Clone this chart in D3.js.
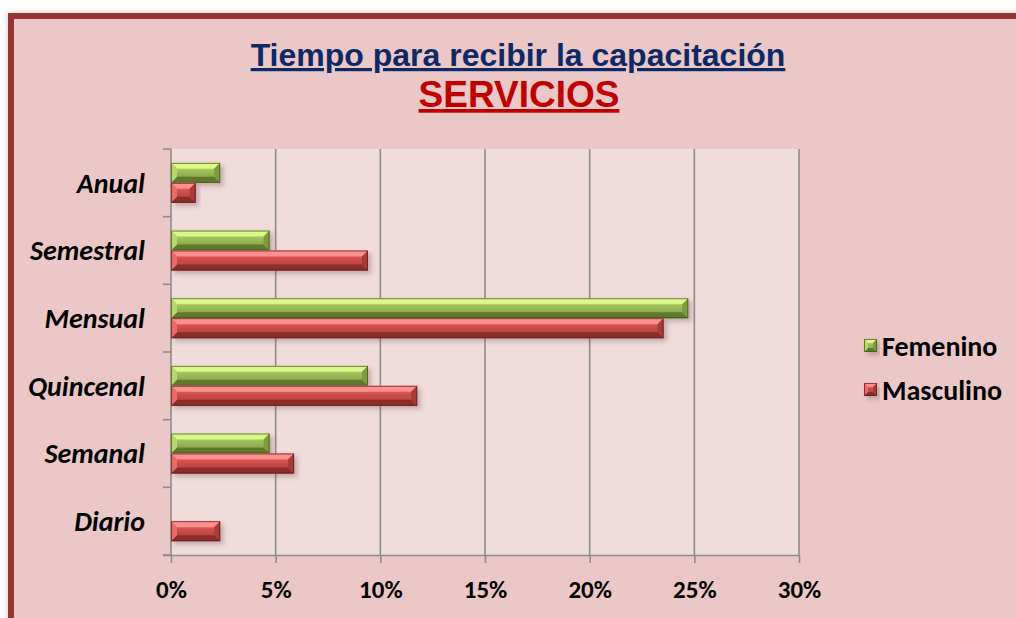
<!DOCTYPE html>
<html>
<head>
<meta charset="utf-8">
<script src="https://cdn.jsdelivr.net/npm/d3@7"></script>
<style>
  html, body { margin: 0; padding: 0; background: #ffffff; }
  svg { display: block; }
</style>
</head>
<body>
<svg id="chart" width="1016" height="618"></svg>
<script>
// Frequency categories, listed from top to bottom
const categories = ["Anual", "Semestral", "Mensual", "Quincenal", "Semanal", "Diario"];
// Series names (legend order)
const seriesNames = ["Femenino", "Masculino"];
// Percentages per category
const femenino  = [2.35, 4.71, 24.71, 9.41, 4.71, 0];
const masculino = [1.18, 9.41, 23.53, 11.76, 5.88, 2.35];
// X axis ticks
const xTicks = [0, 5, 10, 15, 20, 25, 30];

const titleText = "Tiempo para recibir la capacitación";
const subtitleText = "SERVICIOS";

const svg = d3.select("#chart");
const W = 1016, H = 618;
const labelFont = "Carlito, Lato, 'Open Sans', sans-serif";

const palette = {
  Femenino:  { light: "#dcf88a", top: "#b9d86a", mid: "#9bbb59", low: "#7d9a40", dark: "#5f7a2b", edge: "#3f5217" },
  Masculino: { light: "#ff8e8e", top: "#ec6a68", mid: "#cd4d4b", low: "#a83b39", dark: "#8a2e2c", edge: "#5c1a19" }
};

const defs = svg.append("defs");
const shadow = defs.append("filter").attr("id", "barShadow")
  .attr("x", "-10%").attr("y", "-30%").attr("width", "130%").attr("height", "180%");
shadow.append("feDropShadow").attr("dx", 3).attr("dy", 3).attr("stdDeviation", 2.5)
  .attr("flood-color", "#6b4a4a").attr("flood-opacity", 0.35);

const frameShadow = defs.append("filter").attr("id", "frameShadow")
  .attr("x", "-5%").attr("y", "-5%").attr("width", "110%").attr("height", "110%");
frameShadow.append("feDropShadow").attr("dx", 0).attr("dy", 0).attr("stdDeviation", 3)
  .attr("flood-color", "#000").attr("flood-opacity", 0.25);

Object.entries(palette).forEach(([name, c]) => {
  const g = defs.append("linearGradient").attr("id", "grad-" + name)
    .attr("x1", 0).attr("y1", 0).attr("x2", 0).attr("y2", 1);
  g.append("stop").attr("offset", "0%").attr("stop-color", c.top);
  g.append("stop").attr("offset", "45%").attr("stop-color", c.mid);
  g.append("stop").attr("offset", "100%").attr("stop-color", c.low);
});

// Chart frame with dark red border
svg.append("rect")
  .attr("x", 11).attr("y", 16).attr("width", W + 20).attr("height", H + 20)
  .attr("fill", "#ecc7c7").attr("stroke", "#943634").attr("stroke-width", 6)
  .attr("filter", "url(#frameShadow)");

// Titles
svg.append("text")
  .attr("x", 518).attr("y", 66)
  .attr("text-anchor", "middle")
  .attr("font-family", "'Liberation Sans', Arial, sans-serif")
  .attr("font-weight", "bold").attr("font-size", 32)
  .attr("fill", "#0d2a66")
  .attr("text-decoration", "underline")
  .text(titleText);

svg.append("text")
  .attr("x", 519).attr("y", 107)
  .attr("text-anchor", "middle")
  .attr("font-family", "'Liberation Sans', Arial, sans-serif")
  .attr("font-weight", "bold").attr("font-size", 37)
  .attr("fill", "#c00000")
  .attr("text-decoration", "underline")
  .text(subtitleText);

// Plot geometry
const plot = { left: 171, right: 799, top: 149, bottom: 555 };

const x = d3.scaleLinear().domain([0, 30]).range([plot.left, plot.right]);
const y = d3.scaleBand().domain(categories).range([plot.top, plot.bottom])
  .paddingInner(0.41).paddingOuter(0.205);
const ySub = d3.scaleBand().domain(seriesNames).range([0, y.bandwidth()]);

// Plot background
svg.append("rect")
  .attr("x", plot.left).attr("y", plot.top)
  .attr("width", plot.right - plot.left).attr("height", plot.bottom - plot.top)
  .attr("fill", "#f1dcdc");

// Vertical gridlines
svg.append("g").selectAll("line").data(xTicks.slice(1)).join("line")
  .attr("x1", d => x(d)).attr("x2", d => x(d))
  .attr("y1", plot.top).attr("y2", plot.bottom)
  .attr("stroke", "#8c8c8c").attr("stroke-width", 1.6);

// X axis
const xAxis = svg.append("g")
  .attr("transform", `translate(0,${plot.bottom})`)
  .call(d3.axisBottom(x).tickValues(xTicks).tickFormat(d => d + "%").tickSizeOuter(0).tickSize(8).tickPadding(17));
xAxis.select(".domain").attr("stroke", "#8c8c8c").attr("stroke-width", 1.6)
  .attr("d", `M${plot.left - 8},0.5H${plot.right}`);
xAxis.selectAll(".tick line").attr("stroke", "#8c8c8c").attr("stroke-width", 1.6);
xAxis.selectAll(".tick text")
  .attr("font-family", labelFont).attr("font-weight", "bold")
  .attr("font-size", 25).attr("fill", "#000");

// Y axis: boundary ticks between categories
const boundaries = d3.range(categories.length + 1).map(i => plot.top + i * y.step());
svg.append("line")
  .attr("x1", plot.left).attr("x2", plot.left)
  .attr("y1", plot.top).attr("y2", plot.bottom)
  .attr("stroke", "#8c8c8c").attr("stroke-width", 1.6);
svg.append("g").selectAll("line").data(boundaries).join("line")
  .attr("x1", plot.left - 8).attr("x2", plot.left)
  .attr("y1", d => d).attr("y2", d => d)
  .attr("stroke", "#8c8c8c").attr("stroke-width", 1.6);

svg.append("g").selectAll("text").data(categories).join("text")
  .attr("x", 145)
  .attr("y", d => y(d) + y.bandwidth() / 2)
  .attr("dy", "0.35em")
  .attr("text-anchor", "end")
  .attr("font-family", labelFont).attr("font-weight", "bold").attr("font-style", "italic")
  .attr("font-size", 28).attr("fill", "#000")
  .text(d => d);

// Bevelled bar drawing
function bevelBar(g, x0, x1, y0, y1, c, name, bevel) {
  const w = x1 - x0;
  if (w <= 0) return;
  const b = Math.min(bevel, w / 2);
  const grp = g.append("g").attr("filter", "url(#barShadow)");
  grp.append("rect").attr("x", x0).attr("y", y0).attr("width", w).attr("height", y1 - y0)
    .attr("fill", `url(#grad-${name})`);
  const poly = (pts, fill) => grp.append("polygon")
    .attr("points", pts.map(p => p.join(",")).join(" ")).attr("fill", fill);
  poly([[x0, y0], [x1, y0], [x1 - b, y0 + b], [x0 + b, y0 + b]], c.light);
  poly([[x0, y1], [x1, y1], [x1 - b, y1 - b], [x0 + b, y1 - b]], c.dark);
  poly([[x0, y0], [x0 + b, y0 + b], [x0 + b, y1 - b], [x0, y1]], c.top);
  poly([[x1, y0], [x1 - b, y0 + b], [x1 - b, y1 - b], [x1, y1]], c.low);
  grp.append("rect").attr("x", x0 + 0.5).attr("y", y0 + 0.5).attr("width", w - 1).attr("height", y1 - y0 - 1)
    .attr("fill", "none").attr("stroke", c.edge).attr("stroke-width", 1).attr("stroke-opacity", 0.7);
}

const rows = categories.map((cat, i) => ({ cat, Femenino: femenino[i], Masculino: masculino[i] }));
const barsG = svg.append("g");
rows.forEach(r => {
  seriesNames.forEach(s => {
    const y0 = y(r.cat) + ySub(s);
    bevelBar(barsG, x(0), x(r[s]), y0, y0 + ySub.bandwidth(), palette[s], s, 6);
  });
});

// Legend
const legend = svg.append("g");
seriesNames.forEach((s, i) => {
  const ly = 346 + i * 44;
  bevelBar(legend, 864, 877, ly - 7, ly + 6, palette[s], s, 4);
  legend.append("text")
    .attr("x", 882).attr("y", ly).attr("dy", "0.35em")
    .attr("font-family", labelFont).attr("font-weight", "bold")
    .attr("font-size", 28).attr("fill", "#000")
    .text(s);
});
</script>
</body>
</html>
